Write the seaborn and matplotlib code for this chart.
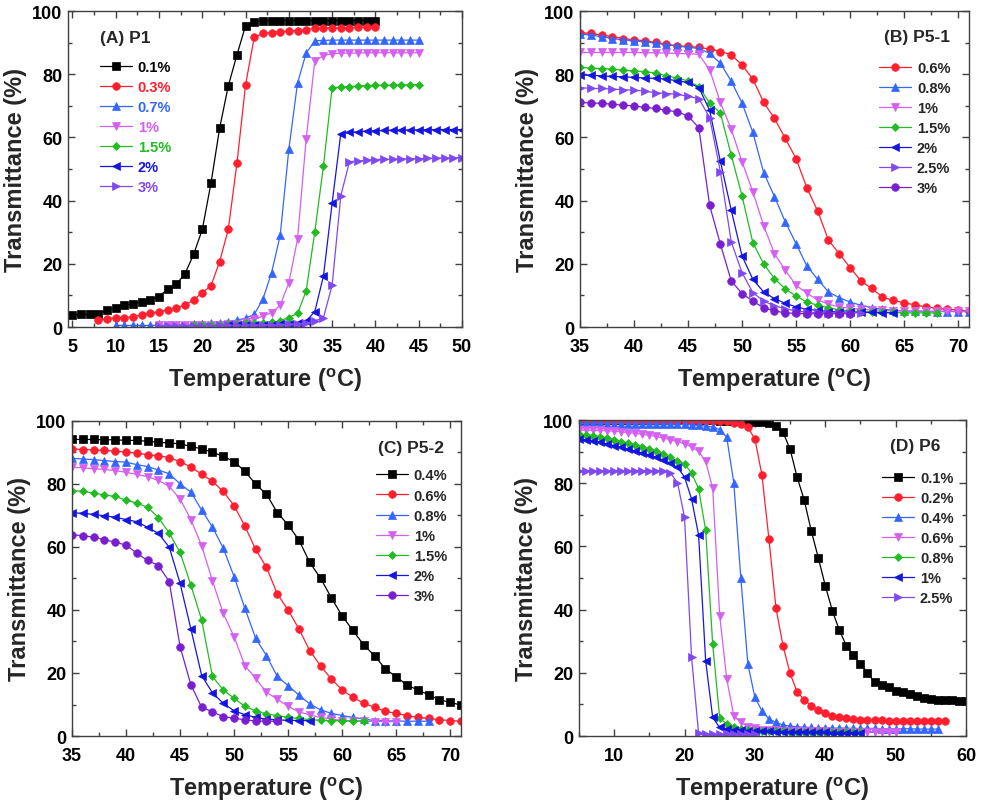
import numpy as np
import pandas as pd
import matplotlib
matplotlib.use("Agg")
import matplotlib.pyplot as plt
import seaborn as sns
from matplotlib.ticker import MultipleLocator

sns.set_theme(style="ticks")
plt.rcParams["font.family"] = ["Liberation Sans", "DejaVu Sans"]
plt.rcParams["font.weight"] = "bold"
plt.rcParams["mathtext.fontset"] = "custom"
plt.rcParams["mathtext.rm"] = "Liberation Sans"
plt.rcParams["mathtext.bf"] = "Liberation Sans:bold"

# ------------------------
# DADOS
# ------------------------
# (A) P1
a_01 = [3.7, 4.0, 4.0, 4.2, 5.4, 6.1, 6.9, 7.4, 8.0, 8.6, 9.6, 12.1, 13.5, 16.9, 23.0, 30.9, 45.5,
        62.9, 76.3, 86.1, 95.4, 96.6] + [96.9] + [97.0] * 13
a_03 = [2.2, 2.6, 3.0, 3.0, 3.3, 3.8, 4.3, 4.9, 5.4, 6.1, 6.9, 8.6, 10.9, 13.0, 20.7, 30.9, 51.8,
        76.7, 91.7, 92.9, 93.2, 93.5, 93.7, 93.8, 94.1, 94.5, 94.6, 94.7, 94.7, 94.7, 94.8, 94.8, 94.8]
a_07 = [0.5, 0.5, 0.5, 0.5, 0.5, 0.6, 0.6, 0.7, 0.8, 0.9, 1.0, 1.2, 1.4, 1.7, 2.2, 2.8, 4.0, 8.8,
        17.2, 29.0, 56.3, 77.2, 86.7, 90.6, 90.7] + [90.8] * 11
a_1 = [0.5, 0.5, 0.5, 0.5, 0.6, 0.6, 0.7, 0.8, 0.9, 1.0, 1.5, 2.5, 3.5, 4.5, 6.9, 14.0, 27.8, 59.5,
       84.3, 85.9, 86.5, 86.7, 86.7, 86.7] + [86.8] * 7
a_15 = [0.8, 0.8, 0.8, 0.8, 1.0, 1.1, 1.2, 1.3, 1.4, 1.5, 1.9, 3.0, 4.3, 11.4, 30.2, 51.0, 75.8,
        75.9, 76.1, 76.3, 76.4, 76.5, 76.5, 76.6, 76.6, 76.7, 76.7]
a_2 = [0.6, 0.6, 0.7, 0.7, 0.8, 0.8, 0.9, 1.0, 1.4, 1.9, 4.9, 16.2, 39.2, 61.2, 61.6, 61.8, 62.0,
       62.1, 62.2, 62.3, 62.3, 62.4, 62.4, 62.5, 62.5, 62.5, 62.5, 62.5]
a_3 = [0.3, 0.3, 0.3, 0.3, 0.4, 0.4, 0.4, 0.5, 0.5, 0.5, 0.6, 0.6, 0.7, 0.7, 0.8, 0.9, 1.0, 1.2,
       1.9, 3.0, 13.2, 41.5, 52.3, 52.6, 52.8, 53.0, 53.1, 53.1, 53.2, 53.3, 53.3, 53.4, 53.5, 53.5,
       53.6, 53.6]
a_start = [5, 8, 10, 15, 19, 23, 15]
a_labels = ["0.1%", "0.3%", "0.7%", "1%", "1.5%", "2%", "3%"]

# (B) P5-1
b_06 = [93.2, 92.9, 92.4, 91.9, 91.3, 90.9, 90.6, 90.1, 89.5, 89.0, 88.8, 88.5, 88.0, 87.2, 86.2,
        82.9, 78.5, 71.1, 66.0, 59.7, 53.3, 44.1, 36.7, 27.5, 23.2, 18.8, 14.6, 12.2, 9.5, 8.4, 7.7,
        7.0, 6.4, 5.9, 5.6, 5.4, 5.1]
b_08 = [92.7, 92.4, 91.9, 91.3, 90.9, 90.6, 90.3, 89.9, 89.3, 89.0, 88.5, 88.2, 86.6, 83.5, 77.8,
        70.9, 61.6, 48.9, 41.3, 33.3, 26.4, 19.3, 15.1, 11.1, 9.3, 7.9, 6.9, 6.1, 5.6, 5.3, 5.1, 5.0,
        5.0, 4.9, 4.9, 4.9, 4.9]
b_1 = [86.9, 86.9, 86.9, 86.9, 86.9, 86.9, 86.8, 86.8, 86.7, 86.6, 86.5, 86.3, 81.4, 71.1, 62.6,
       52.3, 42.8, 32.1, 23.2, 18.0, 13.2, 10.7, 8.6, 7.2, 6.4, 5.9, 5.6, 5.4, 5.3, 5.2, 5.1, 5.1,
       5.0, 5.0, 5.0, 5.0, 5.0]
b_15 = [82.2, 81.9, 81.8, 81.6, 81.3, 81.1, 80.8, 80.4, 79.5, 78.8, 77.9, 76.1, 70.9, 67.7, 54.4,
        41.5, 26.7, 20.0, 15.3, 12.1, 9.8, 7.9, 6.9, 6.1, 5.4, 5.1, 4.9, 4.8, 4.7, 4.6, 4.5, 4.5,
        4.5, 4.5]
b_2 = [79.7, 79.7, 79.5, 79.3, 79.2, 79.0, 78.8, 78.7, 78.5, 77.9, 77.4, 75.8, 68.6, 52.4, 37.0,
       22.5, 15.1, 11.1, 9.0, 7.5, 6.4, 5.6, 5.3, 4.9, 4.8, 4.7, 4.6, 4.6, 4.5, 4.5]
b_25 = [75.8, 75.5, 75.5, 75.3, 75.1, 75.0, 74.6, 74.2, 73.9, 73.7, 73.0, 72.3, 66.3, 49.1, 27.0,
        17.2, 10.9, 8.2, 6.7, 5.8, 5.1, 4.7, 4.6, 4.5, 4.5, 4.5, 4.5]
b_3 = [71.1, 70.9, 70.8, 70.5, 70.2, 70.0, 69.5, 69.2, 68.6, 68.1, 66.8, 63.1, 38.5, 26.2, 14.6,
       10.6, 8.2, 6.1, 5.1, 4.5, 4.3, 4.2, 4.2, 4.2, 4.2, 4.2]
b_labels = ["0.6%", "0.8%", "1%", "1.5%", "2%", "2.5%", "3%"]

# (C) P5-2
c_04 = [94.1, 94.1, 94.1, 94.0, 94.0, 93.8, 93.8, 93.5, 93.2, 93.0, 92.7, 91.9, 91.1, 90.1, 88.7,
        87.1, 84.0, 79.9, 76.7, 70.9, 67.0, 62.2, 55.1, 50.1, 43.9, 38.1, 33.5, 28.9, 25.5, 21.3,
        18.8, 16.2, 14.6, 13.1, 11.5, 10.7, 9.8]
c_06 = [91.1, 90.9, 90.8, 90.6, 90.4, 90.1, 89.8, 89.2, 89.0, 88.3, 87.1, 85.3, 83.1, 80.8, 77.6,
        73.1, 66.6, 59.2, 53.5, 45.1, 40.0, 34.0, 27.1, 22.3, 18.1, 14.6, 12.3, 10.4, 9.1, 7.8,
        7.2, 6.5, 5.9, 5.6, 5.2, 4.9, 4.7]
c_08 = [88.1, 87.9, 87.7, 87.4, 87.1, 86.9, 86.1, 85.5, 84.4, 83.2, 80.0, 77.4, 71.7, 66.3, 59.6,
        50.6, 40.5, 31.0, 25.5, 18.9, 16.0, 13.0, 10.2, 8.3, 7.2, 6.5, 5.9, 5.4, 4.9, 4.8, 4.8,
        4.7, 4.7, 4.7]
c_1 = [85.3, 85.1, 84.8, 84.6, 84.2, 83.7, 83.0, 82.3, 81.1, 79.2, 75.2, 68.7, 60.4, 49.2, 38.9,
       31.5, 22.3, 18.3, 13.9, 11.7, 9.4, 7.7, 6.7, 5.9, 5.4, 4.9, 4.8, 4.7, 4.6, 4.6, 4.5]
c_15 = [77.9, 77.6, 77.1, 76.5, 76.0, 74.9, 73.9, 72.6, 69.3, 64.4, 58.3, 47.9, 36.8, 18.9, 14.6,
        12.0, 9.4, 8.0, 7.0, 6.5, 5.9, 5.6, 5.2, 5.0, 4.9, 4.8, 4.8, 4.8]
c_2 = [70.8, 70.7, 70.3, 69.9, 69.4, 68.7, 68.0, 66.2, 64.3, 59.9, 48.5, 34.0, 19.2, 13.7, 10.4,
       8.0, 6.8, 5.9, 5.4, 5.1, 5.0, 4.9, 4.9]
c_3 = [63.8, 63.6, 63.1, 62.3, 61.5, 60.6, 58.0, 55.7, 54.1, 49.0, 28.4, 16.3, 9.1, 7.7, 6.1, 5.7,
       5.1, 4.8, 4.7, 4.7]
c_labels = ["0.4%", "0.6%", "0.8%", "1%", "1.5%", "2%", "3%"]

# (D) P6
d_01 = [99.9] * 20 + [99.8, 99.8, 99.7, 99.7, 99.6, 99.5, 99.3, 99.0, 98.0, 96.1, 90.8, 81.9, 74.8,
                      65.0, 56.5, 47.6, 39.7, 33.5, 28.6, 25.6, 22.8, 20.1, 17.0, 16.2, 15.4, 14.3,
                      13.8, 13.3, 12.8, 12.0, 11.7, 11.5, 11.4, 11.4, 11.2, 11.0]
d_02 = [99.8] * 22 + [99.1, 98.7, 97.7, 94.0, 82.6, 62.3, 40.4, 28.6, 19.8, 14.0, 11.5, 9.6, 8.2,
                      7.2, 6.4, 5.9, 5.6, 5.4, 5.2, 5.1, 5.0, 5.0, 4.9, 4.9, 4.9, 4.8, 4.8, 4.8,
                      4.7, 4.7, 4.7]
d_04 = [99.0, 99.0, 99.0, 99.0, 98.9, 98.9, 98.9, 98.9, 98.8, 98.8, 98.8, 98.8, 98.7, 98.7, 98.7,
        98.6, 98.5, 98.3, 98.1, 97.8, 97.0, 94.5, 80.2, 50.0, 22.8, 12.2, 8.0, 5.4, 4.3, 3.5, 3.1,
        2.9, 2.8, 2.7, 2.6, 2.6, 2.5, 2.5, 2.5, 2.4, 2.4, 2.4, 2.4, 2.3, 2.3, 2.3, 2.3, 2.3, 2.2,
        2.2, 2.2, 2.2]
d_06 = [96.8, 96.8, 96.7, 96.7, 96.6, 96.5, 96.3, 96.0, 95.8, 95.5, 95.2, 94.8, 94.3, 93.8, 93.2,
        92.5, 91.5, 90.1, 86.9, 78.5, 38.1, 18.0, 6.4, 4.3, 3.0, 2.4, 2.0, 1.9, 1.8, 1.7, 1.7, 1.6,
        1.6, 1.5, 1.5, 1.5, 1.4, 1.4, 1.4, 1.3, 1.3, 1.3, 1.3, 1.2, 1.2, 1.2]
d_08 = [95.5, 95.3, 95.1, 94.7, 94.3, 93.8, 93.2, 92.6, 92.1, 91.6, 90.8, 90.3, 89.2, 88.2, 87.1,
        86.1, 83.2, 78.3, 65.2, 29.1, 5.6, 3.8, 2.7, 2.2, 1.9, 1.7, 1.6, 1.6, 1.5, 1.5, 1.4, 1.4,
        1.4, 1.3, 1.3, 1.3, 1.2, 1.2, 1.2, 1.2, 1.2]
d_1 = [94.0, 93.8, 93.5, 93.0, 92.4, 91.9, 91.4, 90.8, 90.1, 89.6, 88.9, 88.2, 87.3, 86.4, 85.0,
       82.0, 75.0, 63.6, 23.8, 5.9, 2.7, 2.2, 1.9, 1.8, 1.7, 1.6, 1.5, 1.5, 1.4, 1.4, 1.3, 1.3,
       1.3, 1.2, 1.2, 1.2, 1.1, 1.1, 1.1, 1.1, 1.1]
d_25 = [84.0] * 11 + [83.9, 83.8, 83.2, 80.2, 69.2, 24.9, 0.8, 0.6, 0.5, 0.5, 0.5, 0.5, 0.5, 0.5,
                      0.5]
d_labels = ["0.1%", "0.2%", "0.4%", "0.6%", "0.8%", "1%", "2.5%"]

# ------------------------
# ESTILO DAS SERIES
# ------------------------
PRETO = "#000000"
VERMELHO = "#ff1f2f"
AZUL = "#3366ff"
MAGENTA = "#d45ff0"
VERDE = "#22bb22"
AZUL_ESC = "#1515e0"
VIOLETA = "#8048f0"
ROXO = "#7a1fd0"

estilo_a = [(PRETO, "s"), (VERMELHO, "o"), (AZUL, "^"), (MAGENTA, "v"),
            (VERDE, "D"), (AZUL_ESC, "<"), (VIOLETA, ">")]
estilo_b = [(VERMELHO, "o"), (AZUL, "^"), (MAGENTA, "v"), (VERDE, "D"),
            (AZUL_ESC, "<"), (VIOLETA, ">"), (ROXO, "o")]
estilo_c = [(PRETO, "s"), (VERMELHO, "o"), (AZUL, "^"), (MAGENTA, "v"),
            (VERDE, "D"), (AZUL_ESC, "<"), (ROXO, "o")]
estilo_d = estilo_a


def serie(inicio, valores):
    return pd.DataFrame({"T": np.arange(inicio, inicio + len(valores)), "Tr": valores})


def desenhar(ax, series, starts, labels, estilos):
    for vals, st, lab, (cor, mk) in zip(series, starts, labels, estilos):
        df = serie(st, vals)
        ms = 4.5 if mk == "D" else 5.5
        sns.lineplot(data=df, x="T", y="Tr", ax=ax, color=cor, marker=mk, markersize=ms,
                     markeredgecolor=cor, markeredgewidth=0.5, linewidth=0.9, label=lab)


def formatar(ax, xlim, xmaj, xmin):
    ax.set_xlim(*xlim)
    ax.set_ylim(0, 100)
    ax.xaxis.set_major_locator(MultipleLocator(xmaj))
    ax.xaxis.set_minor_locator(MultipleLocator(xmin))
    ax.yaxis.set_major_locator(MultipleLocator(20))
    ax.yaxis.set_minor_locator(MultipleLocator(10))
    ax.tick_params(which="both", direction="in", top=True, right=True, colors="#404040",
                   labelcolor="black", labelsize=13, width=1)
    ax.tick_params(which="major", length=5)
    ax.tick_params(which="minor", length=3)
    ax.tick_params(axis="x", pad=8)
    ax.tick_params(axis="y", pad=4)
    for lab in ax.get_xticklabels() + ax.get_yticklabels():
        lab.set_fontweight("bold")
    for sp in ax.spines.values():
        sp.set_color("#404040")
        sp.set_linewidth(1.0)
    ax.set_xlabel(r"Temperature ($^{\mathbf{o}}$C)", fontsize=17, fontweight="bold", labelpad=7)
    ax.set_ylabel("Transmittance (%)", fontsize=17, fontweight="bold", labelpad=4)


def legenda(ax, bx, by, cores=None):
    leg = ax.legend(loc="upper left", bbox_to_anchor=(bx, by), frameon=False, borderpad=0,
                    borderaxespad=0, handlelength=2.2, handletextpad=0.4, labelspacing=0.42,
                    prop={"size": 10.5, "weight": "bold"})
    if cores is not None:
        for txt, c in zip(leg.get_texts(), cores):
            txt.set_color(c)
    return leg


fig = plt.figure(figsize=(9.81, 8.04), dpi=100)
axA = fig.add_axes([0.0693, 0.592, 0.4016, 0.393])
axB = fig.add_axes([0.5912, 0.592, 0.3965, 0.393])
axC = fig.add_axes([0.0734, 0.0833, 0.3965, 0.392])
axD = fig.add_axes([0.5902, 0.0833, 0.3945, 0.393])

# (A)
desenhar(axA, [a_01, a_03, a_07, a_1, a_15, a_2, a_3], a_start, a_labels, estilo_a)
formatar(axA, (4.48, 50), 5, 2.5)
legenda(axA, 0.081, 0.846, cores=[c for c, _ in estilo_a])
axA.text(0.081, 0.915, "(A) P1", transform=axA.transAxes, fontsize=12.5, fontweight="bold",
         ha="left", va="center")

# (B)
desenhar(axB, [b_06, b_08, b_1, b_15, b_2, b_25, b_3], [35] * 7, b_labels, estilo_b)
formatar(axB, (35, 71), 5, 2.5)
legenda(axB, 0.769, 0.843)
axB.text(0.951, 0.918, "(B) P5-1", transform=axB.transAxes, fontsize=12.5, fontweight="bold",
         ha="right", va="center")

# (C)
desenhar(axC, [c_04, c_06, c_08, c_1, c_15, c_2, c_3], [35] * 7, c_labels, estilo_c)
formatar(axC, (35, 71), 5, 2.5)
legenda(axC, 0.781, 0.849)
axC.text(0.956, 0.914, "(C) P5-2", transform=axC.transAxes, fontsize=12.5, fontweight="bold",
         ha="right", va="center")

# (D)
desenhar(axD, [d_01, d_02, d_04, d_06, d_08, d_1, d_25], [5] * 7, d_labels, estilo_d)
formatar(axD, (5, 60), 10, 5)
legenda(axD, 0.783, 0.840)
axD.text(0.933, 0.918, "(D) P6", transform=axD.transAxes, fontsize=12.5, fontweight="bold",
         ha="right", va="center")

fig.savefig("out.png", dpi=100)
